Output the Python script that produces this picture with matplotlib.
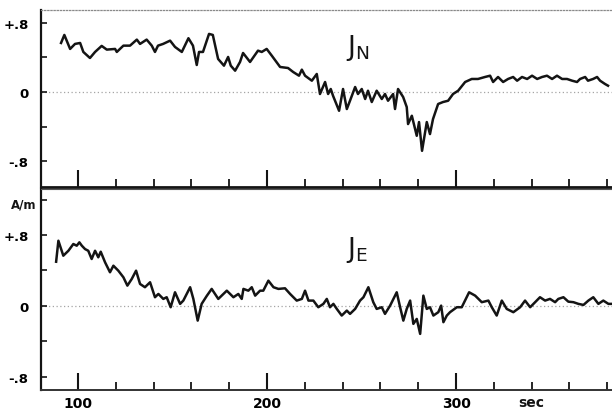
import matplotlib
matplotlib.use("Agg")
import matplotlib.pyplot as plt
import matplotlib.transforms as mtransforms
from matplotlib.ticker import MultipleLocator

# J_N trace (north current density), time in sec, value in A/m
jn_t = [91.0, 92.75, 95.8, 98.4, 101.1, 102.8, 106.3, 109.0, 112.5, 115.2,
        119.6, 120.5, 124.0, 127.5, 131.1, 132.8, 136.3, 139.0, 140.7, 142.3,
        145.0, 148.7, 151.3, 154.9, 158.4, 160.8, 162.8, 164.0, 166.1, 169.3,
        171.3, 174.1, 177.2, 179.4, 180.8, 183.1, 185.7, 187.3, 191.0, 195.2,
        197.2, 199.8, 202.5, 206.9, 211.1, 213.8, 216.9, 218.4, 220.1, 223.7,
        226.3, 228.0, 230.7, 232.3, 233.7, 234.9, 238.1, 240.2, 242.2, 243.9,
        246.6, 248.1, 250.1, 251.9, 253.4, 255.4, 258.0, 260.7, 262.4, 264.0,
        266.7, 267.7, 269.3, 272.0, 273.9, 274.6, 276.6, 279.2, 280.4, 282.0,
        284.5, 286.2, 287.8, 290.5, 293.1, 295.8, 298.4, 301.1, 304.8, 308.3,
        311.6, 315.3, 318.0, 319.6, 322.2, 324.9, 327.5, 330.2, 332.3, 334.9,
        337.6, 340.2, 342.9, 345.5, 348.1, 350.8, 353.4, 356.1, 358.7, 361.4,
        364.0, 365.6, 368.3, 369.8, 372.5, 374.6, 376.2, 378.8, 380.4]
jn_v = [0.568, 0.661, 0.499, 0.557, 0.568, 0.464, 0.394, 0.464, 0.534, 0.491,
        0.499, 0.464, 0.537, 0.537, 0.607, 0.557, 0.607, 0.537, 0.464, 0.537,
        0.557, 0.595, 0.522, 0.464, 0.623, 0.537, 0.313, 0.464, 0.464, 0.673,
        0.661, 0.383, 0.305, 0.406, 0.305, 0.247, 0.348, 0.452, 0.348, 0.479,
        0.464, 0.499, 0.421, 0.290, 0.278, 0.232, 0.189, 0.259, 0.189, 0.131,
        0.209, -0.023, 0.116, -0.023, 0.035, -0.043, -0.217, 0.035, -0.197, -0.100,
        0.058, -0.023, 0.035, -0.081, 0.015, -0.116, 0.015, -0.081, -0.023, -0.101,
        -0.023, -0.197, 0.035, -0.058, -0.174, -0.371, -0.275, -0.507, -0.348, -0.681,
        -0.348, -0.487, -0.313, -0.139, -0.116, -0.101, -0.023, 0.015, 0.116, 0.151,
        0.151, 0.174, 0.189, 0.116, 0.174, 0.116, 0.151, 0.174, 0.131, 0.174,
        0.151, 0.189, 0.151, 0.174, 0.189, 0.151, 0.189, 0.151, 0.151, 0.131,
        0.116, 0.151, 0.174, 0.131, 0.151, 0.174, 0.131, 0.093, 0.073]

# J_E trace (east current density)
je_t = [88.4, 89.6, 92.2, 94.9, 97.5, 99.3, 100.7, 102.0, 103.7, 105.4,
        107.2, 109.0, 110.7, 112.0, 114.3, 116.9, 118.7, 121.3, 124.0, 126.1,
        128.4, 130.7, 132.8, 135.4, 138.1, 140.7, 142.5, 145.1, 146.9, 149.0,
        151.3, 154.0, 155.7, 157.5, 159.3, 161.0, 163.3, 165.4, 168.1, 170.7,
        174.2, 176.0, 178.7, 182.2, 184.8, 186.6, 187.5, 190.1, 191.9, 193.7,
        196.3, 198.0, 200.7, 203.4, 206.0, 209.5, 212.2, 215.7, 218.4, 220.1,
        221.9, 224.5, 227.1, 229.8, 231.6, 233.3, 235.1, 236.9, 239.5, 242.2,
        243.9, 246.6, 249.2, 251.0, 253.6, 256.2, 258.0, 260.7, 262.4, 265.1,
        268.6, 270.4, 272.1, 273.9, 275.7, 277.4, 279.2, 281.0, 282.7, 284.5,
        286.2, 288.0, 290.6, 292.1, 293.3, 295.1, 296.8, 300.4, 303.0, 306.9,
        310.1, 313.6, 317.1, 318.9, 321.5, 324.2, 326.8, 330.3, 333.9, 336.5,
        339.2, 341.8, 344.4, 347.1, 349.7, 352.4, 354.1, 356.8, 359.4, 362.1,
        364.7, 367.4, 370.0, 372.6, 375.3, 377.9, 380.6, 382.4]
je_v = [0.499, 0.736, 0.567, 0.623, 0.699, 0.680, 0.718, 0.680, 0.642, 0.623,
        0.530, 0.623, 0.549, 0.612, 0.492, 0.380, 0.454, 0.398, 0.323, 0.229,
        0.304, 0.398, 0.248, 0.211, 0.267, 0.098, 0.135, 0.079, 0.098, -0.015,
        0.154, 0.023, 0.060, 0.135, 0.211, 0.079, -0.166, 0.023, 0.113, 0.192,
        0.079, 0.116, 0.172, 0.098, 0.135, 0.079, 0.192, 0.172, 0.211, 0.116,
        0.172, 0.172, 0.285, 0.211, 0.192, 0.199, 0.135, 0.060, 0.079, 0.172,
        0.060, 0.060, -0.015, 0.023, 0.079, -0.015, 0.023, -0.034, -0.109, -0.053,
        -0.090, -0.034, 0.060, 0.098, 0.211, 0.042, -0.034, -0.015, -0.090, 0.003,
        0.154, -0.015, -0.166, -0.034, 0.060, -0.203, -0.147, -0.316, 0.116, -0.034,
        -0.015, -0.109, -0.071, 0.003, -0.184, -0.109, -0.071, -0.015, -0.015, 0.154,
        0.116, 0.042, 0.060, -0.015, -0.109, 0.060, -0.034, -0.071, -0.015, 0.060,
        -0.015, 0.042, 0.098, 0.060, 0.079, 0.042, 0.079, 0.098, 0.048, 0.042,
        0.023, 0.011, 0.060, 0.098, 0.023, 0.060, 0.023, 0.023]

xticks_major = [100, 200, 300]
ytick_vals = [-0.8, 0, 0.8]
ytick_labels = ["-.8", "0", "+.8"]

plt.rcParams['font.family'] = ['DejaVu Sans']
plt.rcParams['mathtext.fontset'] = 'dejavusans'

fig = plt.figure(figsize=(6.12, 4.10), dpi=100)
ax1 = fig.add_axes([0.067, 0.5415, 0.933, 0.4317])
ax2 = fig.add_axes([0.067, 0.0463, 0.933, 0.4902])

xlim = (80.4, 382.5)
ink = '#141414'


def style(ax, ylim, show_labels):
    ax.set_xlim(*xlim)
    ax.set_ylim(*ylim)
    ax.axhline(0, color='#a5a5a5', lw=0.9, ls=(0, (1, 2)), zorder=1)
    ax.spines['right'].set_visible(False)
    ax.spines['left'].set_linewidth(1.6)
    ax.spines['left'].set_color(ink)
    ax.set_xticks(xticks_major)
    ax.xaxis.set_minor_locator(MultipleLocator(20))
    ax.tick_params(axis='x', which='major', direction='in', length=12,
                   width=1.5, color=ink, labelsize=10, pad=4,
                   labelbottom=show_labels)
    ax.tick_params(axis='x', which='minor', direction='in', length=6,
                   width=1.3, color=ink)
    ax.set_yticks(ytick_vals)
    ax.set_yticklabels(ytick_labels)
    ax.yaxis.set_minor_locator(MultipleLocator(0.4))
    ax.tick_params(axis='y', which='both', direction='in', length=4,
                   width=1.2, color=ink, labelsize=9.5, pad=9)
    for lab in ax.get_yticklabels() + ax.get_xticklabels():
        lab.set_fontweight('bold')


style(ax1, (-1.10, 0.95), False)
style(ax2, (-0.95, 1.32), True)

# top edge of the upper panel is a faint dotted line
ax1.spines['top'].set_linestyle((0, (1, 1.5)))
ax1.spines['top'].set_color('#8a8a8a')
ax1.spines['top'].set_linewidth(0.9)
ax1.spines['bottom'].set_linewidth(2.0)
ax1.spines['bottom'].set_color(ink)
ax2.spines['top'].set_color('#555555')
ax2.spines['top'].set_linewidth(0.8)
ax2.spines['bottom'].set_linewidth(1.4)
ax2.spines['bottom'].set_color('#333333')

ax1.plot(jn_t, jn_v, color=ink, lw=1.8, zorder=3)
ax2.plot(je_t, je_v, color=ink, lw=1.8, zorder=3)

ax1.text(242, 0.44, r'$\mathsf{J}_{\mathsf{N}}$', fontsize=19, color=ink)
ax2.text(242, 0.56, r'$\mathsf{J}_{\mathsf{E}}$', fontsize=19, color=ink)

trans = mtransforms.blended_transform_factory(ax2.transData, ax2.transAxes)
ax2.text(340, -0.025, 'sec', transform=trans, ha='center', va='top',
         fontsize=10, fontweight='bold', color=ink)
fig.text(0.018, 0.50, 'A/m', fontsize=8.5, fontweight='bold', color=ink,
         va='center', ha='left')

fig.savefig('out.png', dpi=100)
